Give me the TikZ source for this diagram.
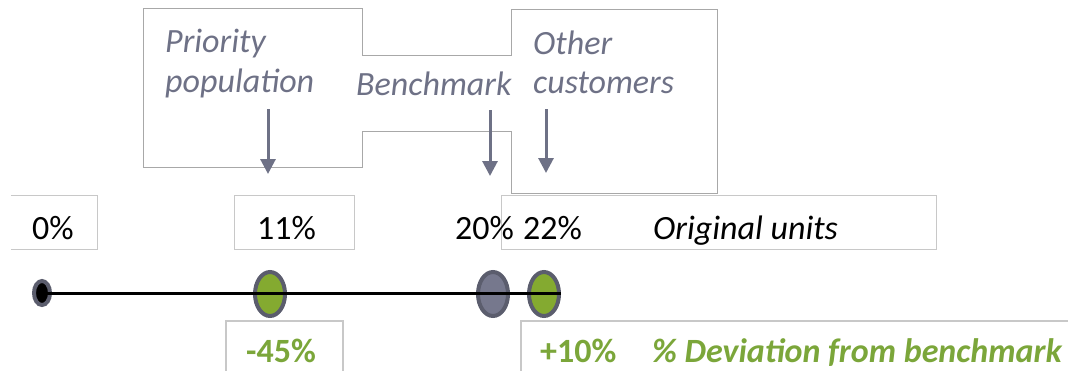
\documentclass[tikz,border=0pt]{standalone}
\usepackage{fontspec}
\setmainfont{Carlito}
\usetikzlibrary{arrows.meta,shapes.geometric}
\definecolor{slate}{HTML}{6E7186}
\definecolor{leaf}{HTML}{7BA63A}
\definecolor{dotgreen}{HTML}{84AA30}
\definecolor{dotgray}{HTML}{76788D}
\definecolor{rim}{HTML}{5B5D6D}
\definecolor{darkframe}{HTML}{A8A8A8}
\definecolor{lightframe}{HTML}{C8C8C8}
\begin{document}
\begin{tikzpicture}[x=1pt,y=-1pt,
  lbl/.style={anchor=base west,inner sep=0pt,font=\fontsize{34}{40}\selectfont},
  area/.style={rectangle,inner sep=0pt},
  pointer/.style={draw=slate,line width=3pt,-{Triangle[width=15pt,length=15pt]}},
  dot/.style={ellipse,draw=rim,line width=4pt,inner sep=0pt}]
\useasboundingbox (0,0) rectangle (1068,370);

% label boxes at the top
\node (prio) at (253,88)[area,minimum width=218,minimum height=158]{};
\node (bench) at (437,93.5)[area,minimum width=150,minimum height=75]{};
\node (other) at (614.5,101.5)[area,minimum width=205,minimum height=183]{};
\draw[darkframe,line width=1.3pt](prio.north west)--(prio.north east)--(prio.east|-bench.north)
  --(other.west|-bench.north)--(other.north west)--(other.north east)--(other.south east)
  --(other.south west)--(other.west|-bench.south)--(prio.east|-bench.south)
  --(prio.south east)--(prio.south west)--cycle;

\node (tprio1) at (165,52)[lbl,text=slate]{\itshape Priority};
\node (tprio2) at (165,92)[lbl,text=slate]{\itshape population};
\node (tbench) at (356,95)[lbl,text=slate]{\itshape Benchmark};
\node (tother1) at (533,54)[lbl,text=slate]{\itshape Other};
\node (tother2) at (533,93)[lbl,text=slate]{\itshape customers};

% value boxes
\node (v0) at (54,222.5)[area,minimum width=86,minimum height=53]{};
\node (v11) at (294.5,222.5)[area,minimum width=119,minimum height=53]{};
\node (vorig) at (719,222.5)[area,minimum width=434,minimum height=53]{};
\draw[lightframe,line width=1.3pt](v0.north west)--(v0.north east)--(v0.south east)--(v0.south west);
\draw[lightframe,line width=1.3pt](v11.north west)rectangle(v11.south east);
\draw[lightframe,line width=1.3pt](vorig.north west)rectangle(vorig.south east);

\node (t0) at (32,239)[lbl]{0\%};
\node (t11) at (257,239)[lbl]{11\%};
\node (t20) at (455,239)[lbl]{20\%};
\node (t22) at (523,239)[lbl]{22\%};
\node (torig) at (653,239)[lbl]{\itshape Original units};

% deviation boxes
\coordinate (dl1) at (226,375);
\coordinate (dl2) at (226,321);
\coordinate (dl3) at (343,321);
\coordinate (dl4) at (343,375);
\coordinate (dr1) at (521,375);
\coordinate (dr2) at (521,321);
\coordinate (dr3) at (1070,321);
\draw[lightframe,line width=1.3pt](dl1)--(dl2)--(dl3)--(dl4);
\draw[lightframe,line width=1.3pt](dr1)--(dr2)--(dr3);

\node (tm45) at (246,362)[lbl,text=leaf]{\bfseries -45\%};
\node (tp10) at (540,362)[lbl,text=leaf]{\bfseries +10\%};
\node (tdev) at (652,362)[lbl,text=leaf]{\bfseries\itshape \% Deviation from benchmark};

% the scale
\node (d0) at (42,293)[dot,fill=black,minimum width=16,minimum height=24]{};
\node (d11) at (270,294)[dot,fill=dotgreen,minimum width=30,minimum height=44]{};
\node (d20) at (493,294)[dot,fill=dotgray,minimum width=30,minimum height=44]{};
\node (d22) at (544,294)[dot,fill=dotgreen,minimum width=30,minimum height=44]{};
\draw[black,line width=3pt](d0.center)--(d22.east|-d0.center);

% pointers
\coordinate (pa) at (268,109);
\coordinate (pb) at (268,174);
\coordinate (ba) at (490,110);
\coordinate (bb) at (490,176);
\coordinate (oa) at (546,109);
\coordinate (ob) at (546,173);
\draw[pointer](pa)--(pb);
\draw[pointer](ba)--(bb);
\draw[pointer](oa)--(ob);
\end{tikzpicture}
\end{document}
